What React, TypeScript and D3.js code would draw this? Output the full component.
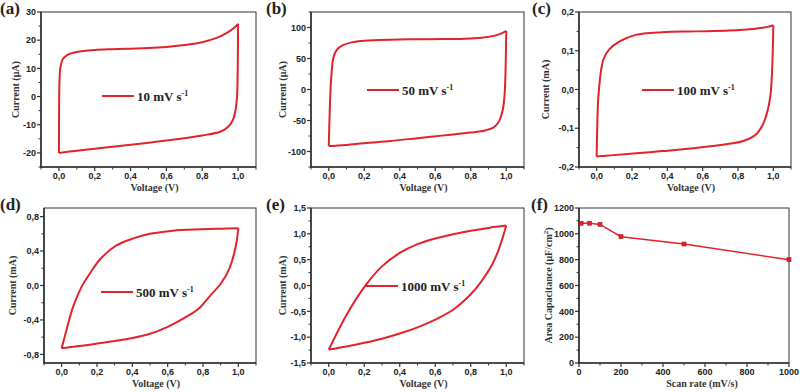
import React from 'react';
import * as d3 from 'd3';

const RED = '#e3222b';
const AXIS = '#333';
const SANS = '"Liberation Sans", Arial, sans-serif';
const SERIF = '"Liberation Serif", "Times New Roman", serif';

// CV loops, [voltage V, current]: forward sweep (upper) then reverse (lower)
const cv10Up = [[0, -20], [0.001, -5], [0.003, 5], [0.008, 10.2], [0.022, 13.3], [0.05, 14.9], [0.1, 15.8], [0.2, 16.5], [0.3, 16.8], [0.4, 17.0], [0.5, 17.2], [0.6, 17.6], [0.7, 18.3], [0.8, 19.3], [0.88, 20.8], [0.94, 22.7], [0.98, 24.5], [1.0, 25.8]];
const cv10Down = [[1.0, 25.8], [0.998, 10], [0.994, 0], [0.985, -5], [0.97, -8.5], [0.94, -11], [0.9, -12.5], [0.8, -13.8], [0.7, -14.8], [0.6, -15.6], [0.5, -16.4], [0.4, -17.1], [0.3, -17.8], [0.2, -18.5], [0.1, -19.2], [0, -20]];

const cv50Up = [[0, -91], [0.005, -40], [0.01, 0], [0.017, 30], [0.025, 50], [0.045, 64], [0.08, 71.5], [0.13, 76], [0.2, 78.5], [0.35, 80.3], [0.5, 81], [0.65, 81.5], [0.77, 82], [0.86, 83.5], [0.93, 86.5], [0.97, 90], [1.0, 94.5]];
const cv50Down = [[1.0, 94.5], [0.995, 20], [0.99, -11], [0.98, -33], [0.96, -51], [0.93, -61], [0.88, -66], [0.8, -69.5], [0.65, -74], [0.5, -78.5], [0.35, -83], [0.2, -86.6], [0.1, -89.5], [0.02, -91], [0, -91]];

const cv100Up = [[0, -0.173], [0.003, -0.1], [0.008, -0.03], [0.015, 0.01], [0.025, 0.05], [0.04, 0.08], [0.07, 0.103], [0.13, 0.124], [0.22, 0.141], [0.37, 0.148], [0.56, 0.15], [0.75, 0.152], [0.9, 0.157], [0.96, 0.161], [1.0, 0.166]];
const cv100Down = [[1.0, 0.166], [0.994, 0.06], [0.983, -0.018], [0.964, -0.061], [0.94, -0.091], [0.9, -0.117], [0.83, -0.133], [0.75, -0.14], [0.56, -0.151], [0.37, -0.159], [0.19, -0.166], [0.08, -0.17], [0, -0.173]];

const cv500Up = [[0, -0.73], [0.028, -0.51], [0.066, -0.24], [0.114, -0.01], [0.16, 0.14], [0.22, 0.31], [0.31, 0.465], [0.41, 0.55], [0.5, 0.6], [0.63, 0.637], [0.79, 0.652], [0.9, 0.659], [1.0, 0.665]];
const cv500Down = [[1.0, 0.665], [0.985, 0.45], [0.95, 0.2], [0.9, 0.02], [0.84, -0.12], [0.78, -0.26], [0.7, -0.37], [0.6, -0.48], [0.5, -0.56], [0.4, -0.61], [0.3, -0.645], [0.15, -0.69], [0, -0.73]];

const cv1000Up = [[0, -1.24], [0.1, -0.57], [0.2, -0.03], [0.3, 0.37], [0.4, 0.63], [0.5, 0.8], [0.6, 0.91], [0.7, 0.99], [0.8, 1.06], [0.9, 1.115], [1.0, 1.16]];
const cv1000Down = [[1.0, 1.16], [0.96, 0.72], [0.92, 0.4], [0.86, 0.08], [0.8, -0.17], [0.7, -0.47], [0.6, -0.66], [0.5, -0.81], [0.4, -0.93], [0.3, -1.03], [0.2, -1.11], [0.1, -1.18], [0, -1.24]];

// panel (f)
const scanRates = [10, 50, 100, 200, 500, 1000];
const areaCapacitance = [1082, 1082, 1073, 978, 921, 800];

const scanRateLabels = ['10', '50', '100', '500', '1000'];

const voltTicks = [0, 0.2, 0.4, 0.6, 0.8, 1.0];
const voltMinor = [-0.1, 0.1, 0.3, 0.5, 0.7, 0.9, 1.1];

const comma = (d: number, digits: number) => d.toFixed(digits).replace('.', ',');

const cvPanels = [
  { label: '(a)', rate: scanRateLabels[0], up: cv10Up, down: cv10Down, unit: 'Current (\u03bcA)',
    box: [41, 256, 12, 167], yDomain: [-25, 30], yMajor: [-20, -10, 0, 10, 20, 30], yMinor: [-25, -15, -5, 5, 15, 25], yDigits: 0,
    yTitleX: 15, labelX: 0, legend: [102, 96] },
  { label: '(b)', rate: scanRateLabels[1], up: cv50Up, down: cv50Down, unit: 'Current (\u03bcA)',
    box: [311, 524, 12, 167], yDomain: [-125, 125], yMajor: [-100, -50, 0, 50, 100], yMinor: [-125, -75, -25, 25, 75, 125], yDigits: 0,
    yTitleX: 282, labelX: 266, legend: [367, 90] },
  { label: '(c)', rate: scanRateLabels[2], up: cv100Up, down: cv100Down, unit: 'Current (mA)',
    box: [579, 791, 12, 167], yDomain: [-0.2, 0.2], yMajor: [-0.2, -0.1, 0, 0.1, 0.2], yMinor: [-0.15, -0.05, 0.05, 0.15], yDigits: 1,
    yTitleX: 545, labelX: 532, legend: [642, 90] },
  { label: '(d)', rate: scanRateLabels[3], up: cv500Up, down: cv500Down, unit: 'Current (mA)',
    box: [44, 256, 208, 363], yDomain: [-0.9, 0.9], yMajor: [-0.8, -0.4, 0, 0.4, 0.8], yMinor: [-0.6, -0.2, 0.2, 0.6], yDigits: 1,
    yTitleX: 12, labelX: 0, legend: [101, 292] },
  { label: '(e)', rate: scanRateLabels[4], up: cv1000Up, down: cv1000Down, unit: 'Current (mA)',
    box: [311, 524, 208, 363], yDomain: [-1.5, 1.5], yMajor: [-1.5, -1, -0.5, 0, 0.5, 1, 1.5], yMinor: [-1.25, -0.75, -0.25, 0.25, 0.75, 1.25], yDigits: 1,
    yTitleX: 282, labelX: 266, legend: [366, 286] },
];

type AxesProps = {
  box: number[]; x: d3.ScaleLinear<number, number>; y: d3.ScaleLinear<number, number>;
  xMajor: number[]; xMinor: number[]; yMajor: number[]; yMinor: number[];
  fmtX: (d: number) => string; fmtY: (d: number) => string;
  xTitle: string; yTitle: React.ReactNode; yTitleX: number; xTitleShift: number; label: string; labelX: number;
};

function Axes(p: AxesProps) {
  const [l, r, t, b] = p.box;
  return (
    <g>
      <rect x={l} y={t} width={r - l} height={b - t} fill="none" stroke={AXIS} strokeWidth={1} />
      <line x1={l} x2={l} y1={t} y2={b + 0.75} stroke={AXIS} strokeWidth={1.6} />
      <line x1={l - 0.75} x2={r} y1={b} y2={b} stroke={AXIS} strokeWidth={1.6} />
      {p.xMajor.map((d) => (
        <g key={'xm' + d}>
          <line x1={p.x(d)} x2={p.x(d)} y1={b} y2={b + 4} stroke={AXIS} strokeWidth={1.2} />
          <text x={p.x(d)} y={b + 12} textAnchor="middle" fontFamily={SANS} fontWeight="bold" fontSize={9} fill="#222">{p.fmtX(d)}</text>
        </g>
      ))}
      {p.xMinor.map((d) => (
        <line key={'xn' + d} x1={p.x(d)} x2={p.x(d)} y1={b} y2={b + 2.5} stroke={AXIS} strokeWidth={1} />
      ))}
      {p.yMajor.map((d) => (
        <g key={'ym' + d}>
          <line x1={l - 4} x2={l} y1={p.y(d)} y2={p.y(d)} stroke={AXIS} strokeWidth={1.2} />
          <text x={l - 5} y={p.y(d) + 3.2} textAnchor="end" fontFamily={SANS} fontWeight="bold" fontSize={9} fill="#222">{p.fmtY(d)}</text>
        </g>
      ))}
      {p.yMinor.map((d) => (
        <line key={'yn' + d} x1={l - 2.5} x2={l} y1={p.y(d)} y2={p.y(d)} stroke={AXIS} strokeWidth={1} />
      ))}
      <text x={(l + r) / 2 + p.xTitleShift} y={b + 24} textAnchor="middle" fontFamily={SERIF} fontWeight="bold" fontSize={10} fill="#333">{p.xTitle}</text>
      <text transform={`translate(${p.yTitleX},${(t + b) / 2}) rotate(-90)`} textAnchor="middle" dy="0.35em" fontFamily={SERIF} fontWeight="bold" fontSize={10} fill="#333">{p.yTitle}</text>
      <text x={p.labelX} y={t + 2} fontFamily={SERIF} fontWeight="bold" fontSize={17} fill="#222">{p.label}</text>
    </g>
  );
}

export default function App() {
  const loopLine = d3.line<number[]>().curve(d3.curveCatmullRom.alpha(0.5));

  // panel (f)
  const fBox = [579, 789, 208, 363];
  const fx = d3.scaleLinear().domain([0, 1000]).range([fBox[0], fBox[1]]);
  const fy = d3.scaleLinear().domain([0, 1200]).range([fBox[3], fBox[2]]);
  const fPts = scanRates.map((s, i) => [fx(s), fy(areaCapacitance[i])]);
  const fLine = d3.line()(fPts as [number, number][]) || '';

  return (
    <svg width={800} height={392} style={{ position: 'absolute', left: 0, top: 0, background: '#fff' }}>
      {cvPanels.map((p) => {
        const [l, r, t, b] = p.box;
        const x = d3.scaleLinear().domain([-0.1, 1.1]).range([l, r]);
        const y = d3.scaleLinear().domain(p.yDomain).range([b, t]);
        const path = loopLine(p.up.map((d) => [x(d[0]), y(d[1])])) || '';
        const path2 = loopLine(p.down.map((d) => [x(d[0]), y(d[1])])) || '';
        const [lx, ly] = p.legend;
        return (
          <g key={p.label}>
            <Axes box={p.box} x={x} y={y} xMajor={voltTicks} xMinor={voltMinor} yMajor={p.yMajor} yMinor={p.yMinor}
              fmtX={(d) => comma(d, 1)} fmtY={(d) => comma(d, p.yDigits)} xTitle="Voltage (V)" yTitle={p.unit}
              yTitleX={p.yTitleX} xTitleShift={6} label={p.label} labelX={p.labelX} />
            <path d={path} fill="none" stroke={RED} strokeWidth={2} strokeLinejoin="round" />
            <path d={path2} fill="none" stroke={RED} strokeWidth={2} strokeLinejoin="round" />
            <line x1={lx} x2={lx + 32} y1={ly} y2={ly} stroke={RED} strokeWidth={2} />
            <text x={lx + 35} y={ly + 4.5} fontFamily={SERIF} fontWeight="bold" fontSize={13} fill="#222">
              {p.rate} mV s<tspan dy={-5} fontSize={8}>-1</tspan>
            </text>
          </g>
        );
      })}
      <Axes box={fBox} x={fx} y={fy} xMajor={[0, 200, 400, 600, 800, 1000]} xMinor={[100, 300, 500, 700, 900]}
        yMajor={[0, 200, 400, 600, 800, 1000, 1200]} yMinor={[100, 300, 500, 700, 900, 1100]}
        fmtX={(d) => String(d)} fmtY={(d) => String(d)} xTitle="Scan rate (mV/s)"
        yTitle={<>Area Capacitance (μF/cm<tspan dy={-4} fontSize={7}>2</tspan><tspan dy={4}>)</tspan></>}
        yTitleX={548} xTitleShift={18} label="(f)" labelX={531} />
      <path d={fLine} fill="none" stroke={RED} strokeWidth={1.5} />
      {fPts.map((d, i) => (
        <rect key={i} x={d[0] - 2} y={d[1] - 2} width={4} height={4} fill={RED} stroke="#b0101a" strokeWidth={0.6} />
      ))}
    </svg>
  );
}
